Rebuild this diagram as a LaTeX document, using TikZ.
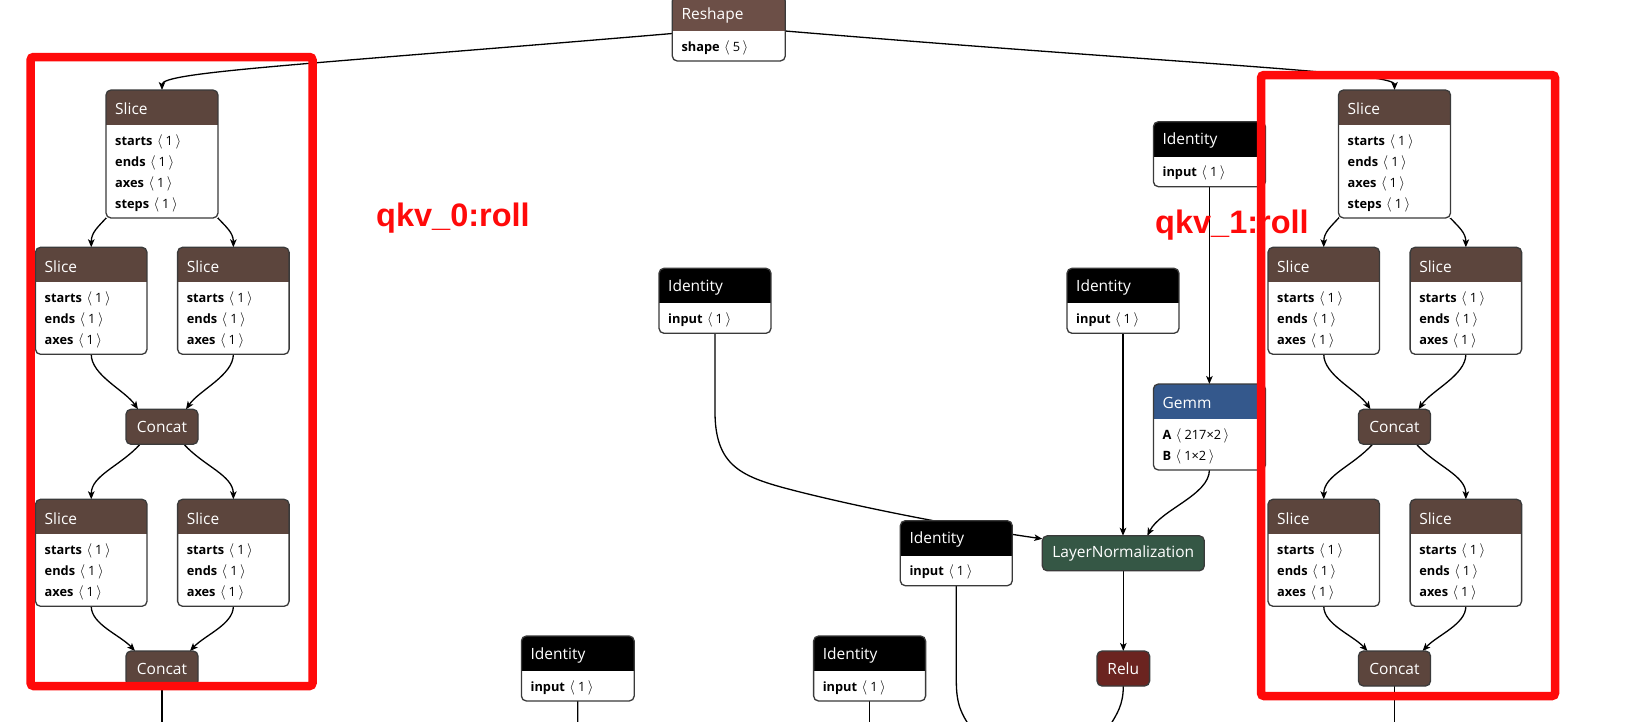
\documentclass[tikz,border=0pt]{standalone}
\usepackage{fontspec}
\setmainfont{Open Sans}
\newfontfamily\lblfont{Liberation Sans}
\usetikzlibrary{arrows.meta}
\pgfdeclarelayer{bgfill}
\pgfdeclarelayer{edges}
\pgfsetlayers{bgfill,edges,main}

\definecolor{shapehdr}{HTML}{5C453D}
\definecolor{reshapehdr}{HTML}{6C4F47}
\definecolor{layerhdr}{HTML}{34588C}
\definecolor{normhdr}{HTML}{355745}
\definecolor{acthdr}{HTML}{6B2420}
\definecolor{bordercol}{HTML}{3A3A3A}
\definecolor{rollred}{HTML}{FF0A0A}

\newcommand\shapeval[1]{\hspace{4.5pt}{\fontsize{14.4}{15}\selectfont$\langle$}\hspace{3pt}#1\hspace{2.5pt}{\fontsize{14.4}{15}\selectfont$\rangle$}}

\tikzset{
  boxbase/.style={draw=none, fill=white, inner sep=0pt, outer sep=0pt, anchor=north west},
  hdrtext/.style={text=white, font=\fontsize{15.5}{18}\selectfont, inner sep=0pt, anchor=west},
  rowtext/.style={text=black, font=\fontsize{12.8}{15}\selectfont, inner sep=0pt, anchor=west},
  solo/.style={draw=bordercol, line width=1.3pt, rounded corners=5pt, text=white,
    font=\fontsize{15.5}{18}\selectfont, minimum height=35pt, inner sep=0pt, outer sep=0pt},
  conn/.style={draw=black, line width=1.3pt, -{Stealth[length=8pt,width=6.5pt,inset=2pt]}},
  connline/.style={draw=black, line width=1.3pt},
  rollbox/.style={draw=rollred, line width=8.5pt, rounded corners=3pt},
  rolllabel/.style={text=rollred, font=\lblfont\bfseries\fontsize{32.5}{36}\selectfont,
    inner sep=0pt, anchor=base west},
}

% name, x, y, width, header colour, title, number of rows, rows
\newcommand\netnode[8]{%
  \pgfmathsetmacro\nnh{44+21*#7}%
  \node[boxbase, minimum width=#4pt, minimum height=\nnh pt] (#1) at (#2,#3) {};
  \begin{scope}
    \clip[rounded corners=5pt] (#1.north west) rectangle (#1.south east);
    \fill[#5] (#1.north west) rectangle ([yshift=-35pt]#1.north east);
  \end{scope}
  \draw[bordercol, line width=1.3pt, rounded corners=5pt] (#1.north west) rectangle (#1.south east);
  \node[hdrtext] (#1-t) at ([xshift=9pt,yshift=-19pt]#1.north west) {#6};
  \foreach \k/\v [count=\i] in {#8} {
    \node[rowtext] (#1-r\i) at ([xshift=9pt,yshift={-51.5pt-21pt*(\i-1)}]#1.north west)
      {\textbf{\k}\shapeval{\v}};
  }
}

% prefix, x shift
\newcommand\rollgroup[2]{%
\begin{scope}[xshift=#2pt]
  \netnode{#1s0}{106}{90}{112}{shapehdr}{Slice}{4}{starts/1,ends/1,axes/1,steps/1}
  \netnode{#1s1}{35.5}{247.3}{111.5}{shapehdr}{Slice}{3}{starts/1,ends/1,axes/1}
  \netnode{#1s2}{177.6}{247.3}{111.5}{shapehdr}{Slice}{3}{starts/1,ends/1,axes/1}
  \node[solo, fill=shapehdr, minimum width=72pt] (#1c0) at (162,426.8) {Concat};
  \netnode{#1s3}{35.5}{499.3}{111.5}{shapehdr}{Slice}{3}{starts/1,ends/1,axes/1}
  \netnode{#1s4}{177.6}{499.3}{111.5}{shapehdr}{Slice}{3}{starts/1,ends/1,axes/1}
  \node[solo, fill=shapehdr, minimum width=72pt] (#1c1) at (162,668.5) {Concat};
  \coordinate (#1out) at (162,730);
  \begin{pgfonlayer}{edges}
    \draw[conn] ([xshift=2pt,yshift=2pt]#1s0.south west) .. controls +(-10,11) and +(0,-15) .. (#1s1.north);
    \draw[conn] ([xshift=-2pt,yshift=2pt]#1s0.south east) .. controls +(10,11) and +(0,-15) .. (#1s2.north);
    \draw[conn] (#1s1.south) .. controls +(0,21) and +(-13,-19) .. ([xshift=-24pt]#1c0.north);
    \draw[conn] (#1s2.south) .. controls +(0,21) and +(13,-19) .. ([xshift=24pt]#1c0.north);
    \draw[conn] ([xshift=-22pt]#1c0.south) .. controls +(-20,22) and +(0,-24) .. (#1s3.north);
    \draw[conn] ([xshift=22pt]#1c0.south) .. controls +(20,22) and +(0,-24) .. (#1s4.north);
    \draw[conn] (#1s3.south) .. controls +(0,18) and +(-15,-16) .. ([xshift=-27pt]#1c1.north);
    \draw[conn] (#1s4.south) .. controls +(0,18) and +(15,-16) .. ([xshift=28pt]#1c1.north);
    \draw[connline] (#1c1.south) -- (#1out);
  \end{pgfonlayer}
\end{scope}}

\begin{document}
\begin{tikzpicture}[x=1pt, y=-1pt]
  \useasboundingbox (0,0) rectangle (1650,721);
  \begin{pgfonlayer}{bgfill}
    \fill[white] (0,0) rectangle (1650,721);
  \end{pgfonlayer}

  % Reshape
  \netnode{reshape}{672.3}{-4}{113}{reshapehdr}{Reshape}{1}{shape/5}

  % the two roll groups
  \rollgroup{l}{0}
  \rollgroup{r}{1232.5}

  % middle column
  \netnode{idA}{1153.4}{121.7}{112}{black}{Identity}{1}{input/1}
  \netnode{gemm}{1153.4}{384}{112}{layerhdr}{Gemm}{2}{A/217×2,B/1×2}
  \netnode{idB}{1067}{268.3}{112}{black}{Identity}{1}{input/1}
  \netnode{idC}{659}{268.3}{112}{black}{Identity}{1}{input/1}
  \node[solo, fill=normhdr, minimum width=162pt] (ln) at (1123.3,553.3) {LayerNormalization};
  \netnode{idD}{900.3}{520.7}{112}{black}{Identity}{1}{input/1}
  \node[solo, fill=acthdr, minimum width=52.6pt] (relu) at (1123.3,668.5) {Relu};
  \netnode{idE}{813.6}{636}{112}{black}{Identity}{1}{input/1}
  \netnode{idF}{521.4}{636}{112.8}{black}{Identity}{1}{input/1}

  \coordinate (idDout) at (970,727);
  \coordinate (reluout) at (1109,727);
  \coordinate (idEout) at (869.6,730);
  \coordinate (idFout) at (577.8,730);

  \begin{pgfonlayer}{edges}
    \draw[conn] ([yshift=-5pt]reshape.west) .. controls (300,65) and (162,72) .. (ls0.north);
    \draw[conn] ([yshift=-2.5pt]reshape.east) .. controls (1180,64) and (1394.5,72) .. (rs0.north);
    \draw[conn] (idA.south) -- (gemm.north);
    \draw[conn] (idB.south) -- (idB.south |- ln.north);
    \draw[conn] (gemm.south) .. controls +(0,25) and +(13,-26) .. ([xshift=24pt]ln.north);
    \draw[conn] (idC.south) -- ++(0,81) .. controls +(1,55) and (745,478) .. (800,492)
       .. controls (880,512) and (980,530) .. ([yshift=-3pt]ln.north west);
    \draw[connline] (idD.south) -- ++(0,95) .. controls +(0,25) and +(-8,-13) .. (idDout);
    \draw[conn] (ln.south) -- (relu.north);
    \draw[connline] (relu.south) .. controls +(0,19) and +(8,-13) .. (reluout);
    \draw[connline] (idE.south) -- (idEout);
    \draw[connline] (idF.south) -- (idFout);
  \end{pgfonlayer}

  % red highlight frames and labels
  \draw[rollbox] (30.6,57) rectangle (312.5,686);
  \draw[rollbox] (1261,75) rectangle (1555,696);
  \node[rolllabel] (lbl0) at (376,226.7) {qkv\_0:roll};
  \node[rolllabel] (lbl1) at (1155,233.3) {qkv\_1:roll};
\end{tikzpicture}
\end{document}
